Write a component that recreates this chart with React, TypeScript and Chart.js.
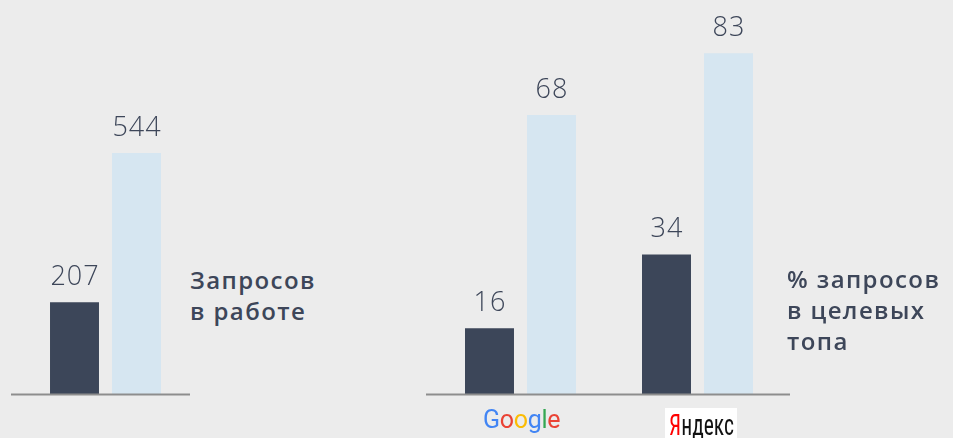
import React, { useEffect, useRef } from "react";
import { Chart, registerables } from "chart.js";

Chart.register(...registerables);

const workCategories = ["Запросов в работе"];
const workBefore = [207];
const workAfter = [544];

const engineCategories = ["Google", "Яндекс"];
const topBefore = [16, 34];
const topAfter = [68, 83];

const DARK = "#3c4659";
const LIGHT = "#d6e6f1";
const TEXT = "#3d4659";

const valueLabelPlugin = {
  id: "valueLabels",
  afterDatasetsDraw(chart: any) {
    const ctx = chart.ctx;
    ctx.save();
    ctx.fillStyle = TEXT;
    ctx.font = "300 27px 'Open Sans', Roboto, sans-serif";
    try { (ctx as any).letterSpacing = "1px"; } catch (e) {}
    ctx.textAlign = "center";
    ctx.textBaseline = "alphabetic";
    chart.data.datasets.forEach((ds: any, i: number) => {
      const meta = chart.getDatasetMeta(i);
      meta.data.forEach((el: any, j: number) => {
        ctx.fillText(String(ds.data[j]), el.x + 0.5, el.y - 17);
      });
    });
    ctx.restore();
  },
};

const baselinePlugin = {
  id: "baseline",
  afterDraw(chart: any) {
    const ctx = chart.ctx;
    const y = chart.chartArea.bottom + 0.5;
    ctx.save();
    ctx.strokeStyle = "#8d8d8d";
    ctx.lineWidth = 2;
    ctx.beginPath();
    ctx.moveTo(0, y);
    ctx.lineTo(chart.width, y);
    ctx.stroke();
    ctx.restore();
  },
};

function makeChart(
  canvas: HTMLCanvasElement,
  labels: string[],
  before: number[],
  after: number[],
  max: number,
  padding: any,
  catPct: number
) {
  return new Chart(canvas, {
    type: "bar",
    data: {
      labels,
      datasets: [
        { data: before, backgroundColor: DARK, borderWidth: 0, barPercentage: 0.79, categoryPercentage: catPct },
        { data: after, backgroundColor: LIGHT, borderWidth: 0, barPercentage: 0.79, categoryPercentage: catPct },
      ],
    },
    options: {
      responsive: false,
      animation: false,
      devicePixelRatio: 1,
      layout: { padding },
      plugins: { legend: { display: false }, tooltip: { enabled: false } },
      scales: {
        x: { display: false, grid: { display: false } },
        y: { display: false, min: 0, max, grid: { display: false } },
      },
    },
    plugins: [valueLabelPlugin, baselinePlugin],
  });
}

export default function App() {
  const leftRef = useRef<HTMLCanvasElement>(null);
  const rightRef = useRef<HTMLCanvasElement>(null);

  useEffect(() => {
    const c1 = makeChart(leftRef.current!, workCategories, workBefore, workAfter, 889, { left: 10, right: 0, top: 0, bottom: 44 }, 0.7337);
    const c2 = makeChart(rightRef.current!, engineCategories, topBefore, topAfter, 96, { left: 6, right: 4, top: 0, bottom: 44 }, 0.7006);
    return () => {
      c1.destroy();
      c2.destroy();
    };
  }, []);

  const textStyle: React.CSSProperties = {
    position: "absolute",
    color: TEXT,
    fontFamily: "'Open Sans', 'Noto Sans', sans-serif",
    fontWeight: 600,
    fontSize: 24,
    letterSpacing: 1.4,
    lineHeight: "31px",
    whiteSpace: "nowrap",
  };

  return (
    <div style={{ position: "fixed", left: 0, top: 0, width: 953, height: 438, background: "#ececec", overflow: "hidden" }}>
      <canvas ref={leftRef} width={179} height={438} style={{ position: "absolute", left: 11, top: 0 }} />
      <canvas ref={rightRef} width={364} height={438} style={{ position: "absolute", left: 426, top: 0 }} />
      <div style={{ ...textStyle, left: 190, top: 264 }}>
        Запросов
        <br />в работе
      </div>
      <div style={{ ...textStyle, left: 787, top: 263 }}>
        % запросов
        <br />в целевых
        <br />топа
      </div>
      <div style={{ position: "absolute", left: 483, top: 405, fontFamily: "Roboto, 'Open Sans', sans-serif", fontSize: 25, lineHeight: "30px", letterSpacing: -0.3 }}>
        <span style={{ color: "#4285f4" }}>G</span>
        <span style={{ color: "#ea4335" }}>o</span>
        <span style={{ color: "#fbbc05" }}>o</span>
        <span style={{ color: "#4285f4" }}>g</span>
        <span style={{ color: "#34a853" }}>l</span>
        <span style={{ color: "#ea4335" }}>e</span>
      </div>
      <div style={{ position: "absolute", left: 665, top: 408, width: 72, height: 32, background: "#ffffff", overflow: "hidden" }}>
        <div style={{ position: "absolute", left: 4, top: 1, fontFamily: "'Liberation Sans Narrow', 'Roboto Condensed', Roboto, sans-serif", fontSize: 30, lineHeight: "32px", color: "#111", transform: "scaleX(0.72)", transformOrigin: "left center", whiteSpace: "nowrap" }}>
          <span style={{ color: "#ff0000" }}>Я</span>ндекс
        </div>
      </div>
    </div>
  );
}
